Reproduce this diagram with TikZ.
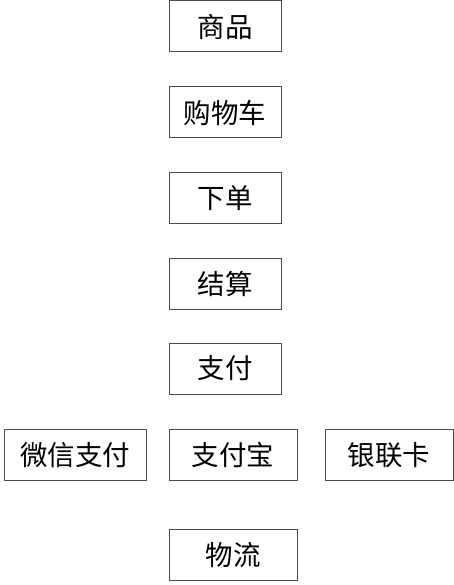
\documentclass[tikz,border=0pt]{standalone}
\usepackage{fontspec}
\setmainfont{Noto Sans CJK SC}
\usetikzlibrary{positioning}

\begin{document}
\begin{tikzpicture}[x=1pt,y=-1pt,
    stage/.style={draw=black!70, line width=1pt, inner sep=0pt,
      minimum width=112pt, minimum height=51pt, font=\fontsize{27.5}{30}\selectfont},
    wide/.style={stage, minimum width=128pt}]
  % canvas
  \useasboundingbox (0,0) rectangle (454,585);

  % main column
  \node[stage] (goods)  at (225,26.5)  {商品};
  \node[stage] (cart)   at (225,112.5) {购物车};
  \node[stage] (order)  at (225,198)   {下单};
  \node[stage] (settle) at (225,283.5) {结算};
  \node[stage] (pay)    at (225,368.5) {支付};

  % payment options
  \node[stage, minimum width=142pt] (wechat) at (75,455) {微信支付};
  \node[wide] (alipay)  at (233,455) {支付宝};
  \node[wide] (unionpay) at (389,455) {银联卡};

  % delivery
  \node[wide] (ship) at (233,555) {物流};
\end{tikzpicture}
\end{document}
